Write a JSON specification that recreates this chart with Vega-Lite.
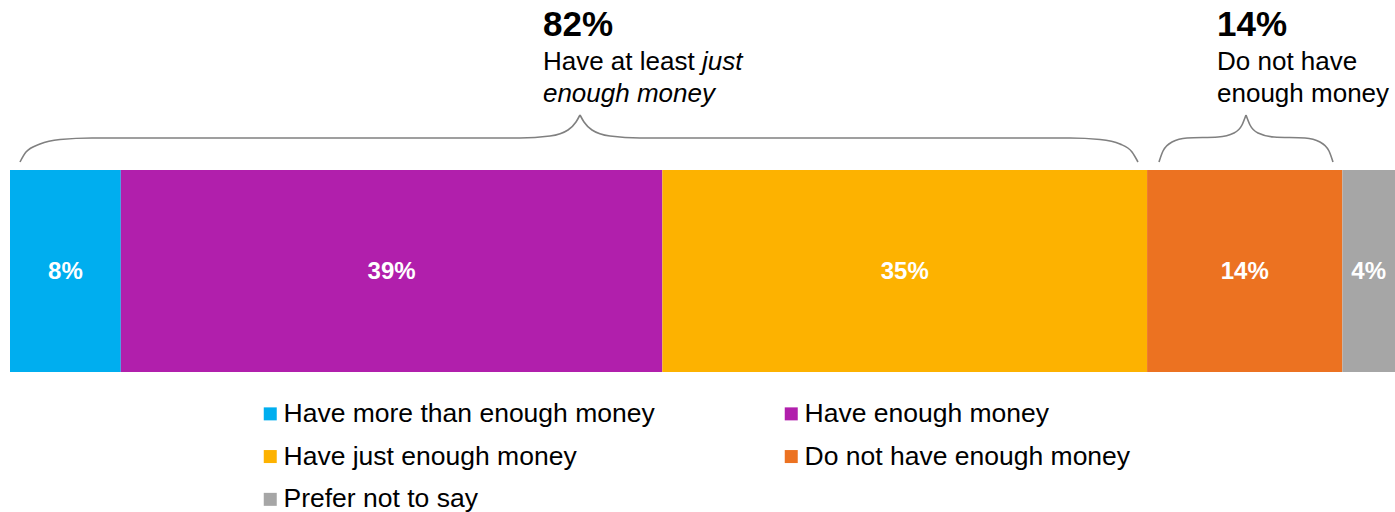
{
  "$schema": "https://vega.github.io/schema/vega-lite/v6.json",
  "width": 1385,
  "height": 512,
  "autosize": "none",
  "padding": {"left": 10, "right": 0, "top": 0, "bottom": 0},
  "background": "white",
  "config": {"view": {"stroke": null}, "font": "Liberation Sans"},
  "datasets": {
    "bars": [
      {"category": "Have more than enough money", "value": 8.0, "order": 1},
      {"category": "Have enough money", "value": 39.1, "order": 2},
      {"category": "Have just enough money", "value": 35.0, "order": 3},
      {"category": "Do not have enough money", "value": 14.1, "order": 4},
      {"category": "Prefer not to say", "value": 3.8, "order": 5}
    ],
    "braces": [
      {"seg": "A-L", "x": 0.722, "y": 162}, {"seg": "A-L", "x": 1.155, "y": 152}, {"seg": "A-L", "x": 2.166, "y": 144}, {"seg": "A-L", "x": 3.61, "y": 139.5}, {"seg": "A-L", "x": 5.921, "y": 138}, {"seg": "A-L", "x": 36.823, "y": 138}, {"seg": "A-L", "x": 38.989, "y": 136}, {"seg": "A-L", "x": 40.289, "y": 130}, {"seg": "A-L", "x": 40.866, "y": 122}, {"seg": "A-L", "x": 41.155, "y": 115},
      {"seg": "A-R", "x": 41.155, "y": 115}, {"seg": "A-R", "x": 41.444, "y": 122}, {"seg": "A-R", "x": 42.022, "y": 130}, {"seg": "A-R", "x": 43.321, "y": 136}, {"seg": "A-R", "x": 45.487, "y": 138}, {"seg": "A-R", "x": 76.534, "y": 138}, {"seg": "A-R", "x": 78.7, "y": 139.5}, {"seg": "A-R", "x": 80.144, "y": 144}, {"seg": "A-R", "x": 81.011, "y": 152}, {"seg": "A-R", "x": 81.444, "y": 162},
      {"seg": "B-L", "x": 82.96, "y": 162}, {"seg": "B-L", "x": 83.249, "y": 151}, {"seg": "B-L", "x": 83.899, "y": 142}, {"seg": "B-L", "x": 84.982, "y": 138}, {"seg": "B-L", "x": 87.22, "y": 137}, {"seg": "B-L", "x": 88.375, "y": 133}, {"seg": "B-L", "x": 88.953, "y": 125}, {"seg": "B-L", "x": 89.242, "y": 115},
      {"seg": "B-R", "x": 89.242, "y": 115}, {"seg": "B-R", "x": 89.531, "y": 125}, {"seg": "B-R", "x": 90.108, "y": 133}, {"seg": "B-R", "x": 91.264, "y": 137}, {"seg": "B-R", "x": 93.502, "y": 138}, {"seg": "B-R", "x": 94.585, "y": 142}, {"seg": "B-R", "x": 95.235, "y": 151}, {"seg": "B-R", "x": 95.523, "y": 162}
    ],
    "notes": [
      {"label": "82%", "x": 38.48, "y": 36, "kind": "head"},
      {"label": "Have at least", "x": 38.48, "y": 70, "kind": "body"},
      {"label": "just", "x": 49.96, "y": 70, "kind": "emph"},
      {"label": "enough money", "x": 38.48, "y": 102, "kind": "emph"},
      {"label": "14%", "x": 87.15, "y": 36, "kind": "head"},
      {"label": "Do not have", "x": 87.15, "y": 70, "kind": "body"},
      {"label": "enough money", "x": 87.15, "y": 102, "kind": "body"}
    ]
  },
  "layer": [
    {
      "data": {"name": "bars"},
      "transform": [
        {"stack": "value", "groupby": [], "sort": [{"field": "order", "order": "ascending"}], "as": ["x0", "x1"]}
      ],
      "mark": {"type": "bar", "stroke": null},
      "encoding": {
        "x": {"field": "x0", "type": "quantitative", "scale": {"domain": [0, 100], "nice": false, "zero": false}, "axis": null},
        "x2": {"field": "x1"},
        "y": {"datum": 170, "type": "quantitative", "scale": {"domain": [0, 512], "reverse": true, "nice": false, "zero": false}, "axis": null},
        "y2": {"datum": 372},
        "color": {
          "field": "category",
          "type": "nominal",
          "sort": ["Have more than enough money", "Have enough money", "Have just enough money", "Do not have enough money", "Prefer not to say"],
          "scale": {
            "domain": ["Have more than enough money", "Have enough money", "Have just enough money", "Do not have enough money", "Prefer not to say"],
            "range": ["#00AEEF", "#B11FAC", "#FDB200", "#EC7221", "#A6A6A6"]
          },
          "legend": {
            "orient": "none",
            "direction": "horizontal",
            "legendX": 247,
            "legendY": 400.5,
            "columns": 2,
            "columnPadding": 123,
            "rowPadding": 15.8,
            "title": null,
            "symbolType": "square",
            "symbolSize": 169,
            "symbolStrokeWidth": 0,
            "labelFontSize": 26.5,
            "labelFont": "Liberation Sans",
            "labelColor": "#000000",
            "labelLimit": 700,
            "labelOffset": 0,
            "padding": 0
          }
        }
      }
    },
    {
      "data": {"name": "bars"},
      "transform": [
        {"stack": "value", "groupby": [], "sort": [{"field": "order", "order": "ascending"}], "as": ["x0", "x1"]},
        {"calculate": "(datum.x0 + datum.x1) / 2", "as": "mid"},
        {"calculate": "format(datum.value, '.0f') + '%'", "as": "lbl"}
      ],
      "mark": {"type": "text", "color": "white", "fontWeight": "bold", "fontSize": 24, "font": "Liberation Sans", "align": "center", "baseline": "middle"},
      "encoding": {
        "x": {"field": "mid", "type": "quantitative"},
        "y": {"datum": 272, "type": "quantitative"},
        "text": {"field": "lbl"}
      }
    },
    {
      "data": {"name": "braces"},
      "mark": {"type": "line", "stroke": "#808080", "strokeWidth": 1.6, "interpolate": "monotone"},
      "encoding": {
        "x": {"field": "x", "type": "quantitative"},
        "y": {"field": "y", "type": "quantitative"},
        "detail": {"field": "seg"}
      }
    },
    {
      "data": {"name": "notes"},
      "transform": [{"filter": "datum.kind === 'head'"}],
      "mark": {"type": "text", "fontWeight": "bold", "fontSize": 35, "font": "Liberation Sans", "align": "left", "baseline": "alphabetic", "color": "#000000"},
      "encoding": {
        "x": {"field": "x", "type": "quantitative"},
        "y": {"field": "y", "type": "quantitative"},
        "text": {"field": "label"}
      }
    },
    {
      "data": {"name": "notes"},
      "transform": [{"filter": "datum.kind === 'body'"}],
      "mark": {"type": "text", "fontSize": 26, "font": "Liberation Sans", "align": "left", "baseline": "alphabetic", "color": "#000000"},
      "encoding": {
        "x": {"field": "x", "type": "quantitative"},
        "y": {"field": "y", "type": "quantitative"},
        "text": {"field": "label"}
      }
    },
    {
      "data": {"name": "notes"},
      "transform": [{"filter": "datum.kind === 'emph'"}],
      "mark": {"type": "text", "fontSize": 26, "fontStyle": "italic", "font": "Liberation Sans", "align": "left", "baseline": "alphabetic", "color": "#000000"},
      "encoding": {
        "x": {"field": "x", "type": "quantitative"},
        "y": {"field": "y", "type": "quantitative"},
        "text": {"field": "label"}
      }
    }
  ]
}
